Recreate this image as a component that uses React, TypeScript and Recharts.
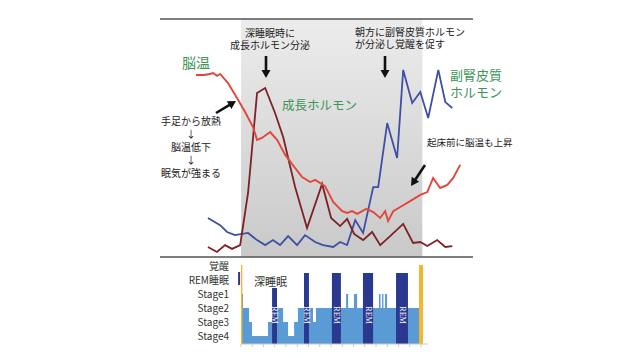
import React from 'react';
import {
  LineChart,
  Line,
  XAxis,
  YAxis,
  ReferenceArea,
  ReferenceLine,
  ComposedChart,
  Area,
} from 'recharts';

const FONT = '"Noto Sans CJK JP", "Noto Sans", sans-serif';

// time in hours relative to sleep onset; values in relative units (0-100)
const brainTemp = [
  { t: -2.0, v: 76.5 }, { t: -1.64, v: 76.5 }, { t: -1.38, v: 76.9 }, { t: -1.24, v: 77.3 },
  { t: -1.07, v: 76.1 }, { t: -0.93, v: 76.9 }, { t: -0.58, v: 73.1 }, { t: -0.18, v: 66.8 },
  { t: 0.18, v: 60.9 }, { t: 0.53, v: 54.6 }, { t: 0.71, v: 49.2 }, { t: 0.93, v: 50.0 },
  { t: 1.29, v: 52.5 }, { t: 1.6, v: 49.2 }, { t: 1.96, v: 42.9 }, { t: 2.4, v: 37.4 },
  { t: 2.71, v: 33.6 }, { t: 3.07, v: 31.5 }, { t: 3.29, v: 32.4 }, { t: 3.73, v: 29.8 },
  { t: 4.09, v: 23.1 }, { t: 4.49, v: 19.3 }, { t: 4.71, v: 18.5 }, { t: 4.93, v: 19.3 },
  { t: 5.16, v: 18.1 }, { t: 5.56, v: 20.2 }, { t: 5.87, v: 18.9 }, { t: 6.18, v: 16.4 },
  { t: 6.4, v: 19.3 }, { t: 6.53, v: 15.1 }, { t: 6.76, v: 19.3 }, { t: 7.07, v: 21.0 },
  { t: 7.51, v: 23.5 }, { t: 7.96, v: 26.1 }, { t: 8.27, v: 27.3 }, { t: 8.53, v: 33.2 },
  { t: 8.84, v: 29.0 }, { t: 9.16, v: 30.3 }, { t: 9.42, v: 33.2 }, { t: 9.73, v: 38.7 },
];

const growthHormone = [
  { t: -1.47, v: 4.2 }, { t: -1.07, v: 2.1 }, { t: -0.71, v: 5.0 }, { t: -0.4, v: 3.4 },
  { t: -0.04, v: 5.0 }, { t: 0.31, v: 26.9 }, { t: 0.71, v: 68.9 }, { t: 1.07, v: 71.0 },
  { t: 1.51, v: 60.5 }, { t: 1.87, v: 50.4 }, { t: 2.4, v: 29.4 }, { t: 2.93, v: 12.2 },
  { t: 3.6, v: 30.7 }, { t: 4.0, v: 16.4 }, { t: 4.4, v: 13.0 }, { t: 4.71, v: 16.0 },
  { t: 5.02, v: 9.7 }, { t: 5.42, v: 7.1 }, { t: 5.82, v: 10.5 }, { t: 6.18, v: 5.0 },
  { t: 6.62, v: 8.8 }, { t: 7.2, v: 13.9 }, { t: 7.64, v: 5.9 }, { t: 7.96, v: 6.3 },
  { t: 8.27, v: 4.6 }, { t: 8.71, v: 7.1 }, { t: 9.07, v: 4.2 }, { t: 9.38, v: 4.6 },
];

const cortisol = [
  { t: -1.47, v: 16.4 }, { t: -0.93, v: 13.4 }, { t: -0.62, v: 10.5 }, { t: -0.27, v: 9.2 },
  { t: 0.31, v: 10.1 }, { t: 0.71, v: 7.1 }, { t: 1.07, v: 5.0 }, { t: 1.42, v: 7.1 },
  { t: 1.73, v: 5.0 }, { t: 2.09, v: 8.8 }, { t: 2.49, v: 5.0 }, { t: 2.84, v: 9.2 },
  { t: 3.29, v: 6.3 }, { t: 3.64, v: 5.0 }, { t: 4.09, v: 4.2 }, { t: 4.4, v: 6.3 },
  { t: 4.71, v: 5.0 }, { t: 5.07, v: 15.5 }, { t: 5.42, v: 10.1 }, { t: 5.87, v: 29.4 },
  { t: 6.09, v: 29.4 }, { t: 6.49, v: 56.3 }, { t: 6.93, v: 41.6 }, { t: 7.2, v: 78.6 },
  { t: 7.6, v: 64.7 }, { t: 7.96, v: 69.3 }, { t: 8.31, v: 58.4 }, { t: 8.76, v: 78.6 },
  { t: 9.07, v: 65.1 }, { t: 9.38, v: 62.6 },
];

const sleepStart = 0;
const sleepEnd = 8.05;

// hypnogram: stage level 1=Stage4 ... 4=Stage1, 5=REM, 6=wake
const stageTicks = [1, 2, 3, 4, 5, 6];
const stageNames = ['', 'Stage4', 'Stage3', 'Stage2', 'Stage1', 'REM睡眠', '覚醒'];
const hypnogram = [
  { t: 0.04, s: 4 }, { t: 0.09, s: 3 }, { t: 0.36, s: 2 }, { t: 0.49, s: 1 },
  { t: 1.2, s: 2 }, { t: 1.59, s: 3 }, { t: 1.87, s: 2 }, { t: 2.09, s: 1 },
  { t: 2.36, s: 2 }, { t: 2.53, s: 3 }, { t: 3.2, s: 2 }, { t: 3.33, s: 3 },
  { t: 4.67, s: 4 }, { t: 4.76, s: 3 }, { t: 5.02, s: 4 }, { t: 5.16, s: 3 },
  { t: 6.13, s: 4 }, { t: 6.2, s: 3 }, { t: 6.27, s: 4 }, { t: 6.33, s: 3 },
  { t: 6.4, s: 4 }, { t: 6.49, s: 3 }, { t: 7.91, s: 3 },
];
const remPeriods = [
  { start: 1.38, end: 1.6, top: 4.43 },
  { start: 2.8, end: 3.02, top: 5.5 },
  { start: 4.04, end: 4.44, top: 5.5 },
  { start: 5.42, end: 5.87, top: 5.5 },
  { start: 6.89, end: 7.42, top: 5.5 },
];
const wakeMarks = [
  { start: 0.0, end: 0.06, top: 6.07 },
  { start: 7.91, end: 8.09, top: 6.07 },
];
const preSleepMark = { start: -0.13, end: -0.04, bottom: 4.64, top: 5.57 };
const hypTicks = [0, 0.5, 1, 1.5, 2, 2.5, 3, 3.5, 4, 4.5, 5, 5.5, 6, 6.5, 7, 7.5, 8];
const HYP_MIN = 0.43;

const RED = '#e2463b';
const DARKRED = '#7c2126';
const BLUE = '#3f4fa6';
const GREEN = '#3e9558';
const LIGHTBLUE = '#5b9bd5';
const NAVY = '#2b3890';
const YELLOW = '#f2b630';

const RemLabel = (props: any) => {
  const vb = props.viewBox || {};
  const cx = vb.x + vb.width / 2;
  const cy = vb.y + vb.height - 29;
  return (
    <text
      x={cx}
      y={cy}
      transform={`rotate(90 ${cx} ${cy})`}
      textAnchor="middle"
      dominantBaseline="central"
      fill="#ffffff"
      fontSize={8}
      fontFamily='"Liberation Serif", serif'
    >
      REM
    </text>
  );
};

const Arrow = ({ x1, y1, x2, y2 }: { x1: number; y1: number; x2: number; y2: number }) => {
  const ang = Math.atan2(y2 - y1, x2 - x1);
  const hl = 8;
  const hw = 4.5;
  const bx = x2 - hl * Math.cos(ang);
  const by = y2 - hl * Math.sin(ang);
  const px = -Math.sin(ang);
  const py = Math.cos(ang);
  const pts = `${x2},${y2} ${bx + hw * px},${by + hw * py} ${bx - hw * px},${by - hw * py}`;
  return (
    <g>
      <line x1={x1} y1={y1} x2={bx + 1 * Math.cos(ang)} y2={by + 1 * Math.sin(ang)} stroke="#111" strokeWidth={2.6} />
      <polygon points={pts} fill="#111" />
    </g>
  );
};

export default function App() {
  return (
    <div style={{ position: 'absolute', left: 0, top: 0, width: 640, height: 358, background: '#fff', overflow: 'hidden' }}>
      <div style={{ position: 'absolute', left: 0, top: 0 }}>
        <LineChart width={640} height={358} margin={{ top: 19, right: 167, bottom: 101, left: 160 }}>
          <defs>
            <linearGradient id="sleepGray" x1="0" y1="0" x2="0" y2="1">
              <stop offset="0%" stopColor="#ececec" />
              <stop offset="100%" stopColor="#c9c9c9" />
            </linearGradient>
          </defs>
          <XAxis type="number" dataKey="t" domain={[-3.6, 10.3]} allowDataOverflow hide />
          <YAxis type="number" domain={[0, 100]} allowDataOverflow hide />
          <ReferenceArea x1={sleepStart} x2={sleepEnd} y1={0} y2={100} fill="url(#sleepGray)" fillOpacity={1} stroke="none" />
          <ReferenceLine y={100} stroke="#555" strokeWidth={1.5} />
          <ReferenceLine y={0} stroke="#555" strokeWidth={1.5} />
          <Line data={cortisol} dataKey="v" stroke={BLUE} strokeWidth={1.8} dot={false} isAnimationActive={false} />
          <Line data={growthHormone} dataKey="v" stroke={DARKRED} strokeWidth={1.8} dot={false} isAnimationActive={false} />
          <Line data={brainTemp} dataKey="v" stroke={RED} strokeWidth={1.9} dot={false} isAnimationActive={false} />
        </LineChart>
      </div>
      <div style={{ position: 'absolute', left: 0, top: 0 }}>
        <ComposedChart width={640} height={358} data={hypnogram} margin={{ top: 260, right: 212, bottom: 8, left: 181 }}>
          <XAxis
            type="number"
            dataKey="t"
            domain={[0, 8.31]}
            allowDataOverflow
            ticks={hypTicks}
            tickFormatter={() => ''}
            tickSize={3}
            height={6}
            axisLine={{ stroke: '#c9c9c9' }}
            tickLine={{ stroke: '#c9c9c9' }}
          />
          <YAxis
            type="number"
            domain={[HYP_MIN, 6.43]}
            allowDataOverflow
            ticks={stageTicks}
            tickFormatter={(v: number) => stageNames[v] || ''}
            width={60}
            axisLine={false}
            tickLine={false}
            tickMargin={6}
            tick={{ fontSize: 10, fill: '#333', fontFamily: FONT }}
            interval={0}
          />
          <Area
            type="stepAfter"
            dataKey="s"
            stroke="none"
            fill={LIGHTBLUE}
            fillOpacity={1}
            baseValue={HYP_MIN}
            isAnimationActive={false}
          />
          {wakeMarks.map((w, i) => (
            <ReferenceArea key={`w${i}`} x1={w.start} x2={w.end} y1={HYP_MIN} y2={w.top} fill={YELLOW} fillOpacity={1} stroke="none" ifOverflow="visible" />
          ))}
          <ReferenceArea
            x1={preSleepMark.start}
            x2={preSleepMark.end}
            y1={preSleepMark.bottom}
            y2={preSleepMark.top}
            fill={NAVY}
            fillOpacity={1}
            stroke="none"
            ifOverflow="visible"
          />
          {remPeriods.map((r, i) => (
            <ReferenceArea
              key={`r${i}`}
              x1={r.start}
              x2={r.end}
              y1={HYP_MIN}
              y2={r.top}
              fill={NAVY}
              fillOpacity={1}
              stroke="none"
              ifOverflow="visible"
              label={RemLabel}
            />
          ))}
        </ComposedChart>
      </div>
      <svg width={640} height={358} style={{ position: 'absolute', left: 0, top: 0, pointerEvents: 'none' }} fontFamily={FONT}>
        <text x={182} y={62} fontSize={14} fill={GREEN} dominantBaseline="central">脳温</text>
        <text x={270} y={32} fontSize={10} fill="#222" textAnchor="middle" dominantBaseline="central">深睡眠時に</text>
        <text x={270} y={44} fontSize={10} fill="#222" textAnchor="middle" dominantBaseline="central">成長ホルモン分泌</text>
        <text x={355} y={31} fontSize={10} fill="#222" dominantBaseline="central">朝方に副腎皮質ホルモン</text>
        <text x={355} y={43} fontSize={10} fill="#222" dominantBaseline="central">が分泌し覚醒を促す</text>
        <text x={282} y={104} fontSize={12.5} fill={GREEN} dominantBaseline="central">成長ホルモン</text>
        <text x={450} y={74} fontSize={13} fill={GREEN} dominantBaseline="central">副腎皮質</text>
        <text x={450} y={91} fontSize={13} fill={GREEN} dominantBaseline="central">ホルモン</text>
        <text x={191} y={120} fontSize={10} fill="#222" textAnchor="middle" dominantBaseline="central">手足から放熱</text>
        <text x={191} y={133} fontSize={10} fill="#222" textAnchor="middle" dominantBaseline="central">↓</text>
        <text x={191} y={146} fontSize={10} fill="#222" textAnchor="middle" dominantBaseline="central">脳温低下</text>
        <text x={191} y={159} fontSize={10} fill="#222" textAnchor="middle" dominantBaseline="central">↓</text>
        <text x={191} y={172} fontSize={10} fill="#222" textAnchor="middle" dominantBaseline="central">眠気が強まる</text>
        <text x={427} y={142} fontSize={9.5} fill="#222" dominantBaseline="central">起床前に脳温も上昇</text>
        <text x={254} y={281} fontSize={11} fill="#333" dominantBaseline="central">深睡眠</text>
        <text x={260} y={332} fontSize={7} fill="#fff" textAnchor="middle" dominantBaseline="central" fontFamily='"Liberation Serif", serif'>SWS</text>
        <Arrow x1={266} y1={56} x2={266} y2={78} />
        <Arrow x1={385} y1={56} x2={385} y2={78} />
        <Arrow x1={216} y1={113} x2={236} y2={101} />
        <Arrow x1={425} y1={165} x2={411} y2={186} />
      </svg>
    </div>
  );
}
